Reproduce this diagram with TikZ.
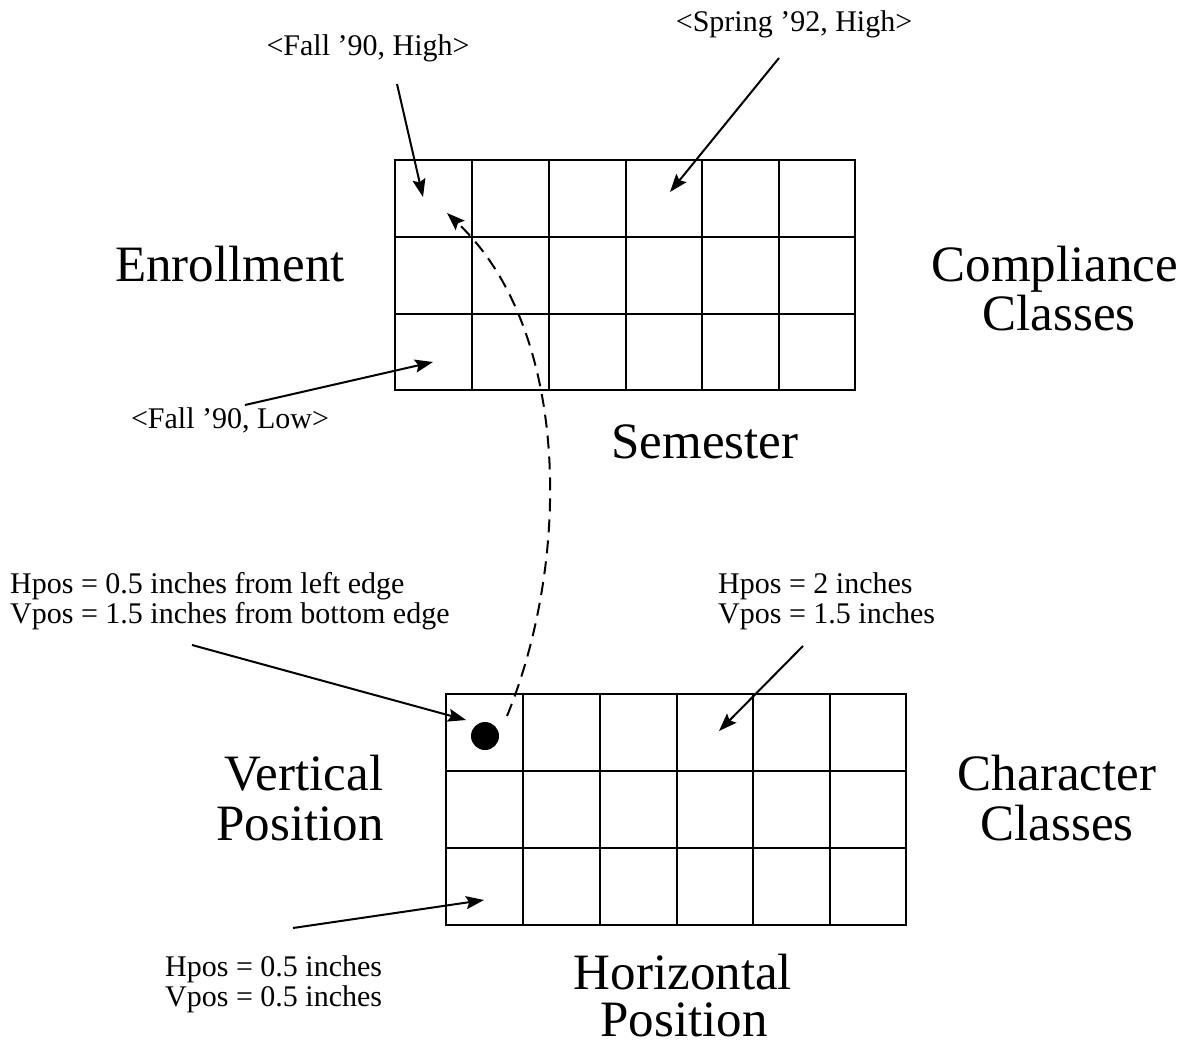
\documentclass[tikz,border=0pt]{standalone}
\usepackage{fontspec}
\setmainfont{Liberation Serif}
\usetikzlibrary{arrows.meta}
\begin{document}
\begin{tikzpicture}[x=1pt,y=-1pt,
  big/.style={font=\fontsize{51}{50}\selectfont,inner sep=0pt,align=center},
  small/.style={font=\fontsize{30}{30}\selectfont,inner sep=0pt},
  gridline/.style={line width=2.4pt},
  ptr/.style={line width=2pt,-{Stealth[length=18pt,width=13pt,inset=3pt]}},
  curve/.style={line width=2pt,dash pattern=on 13pt off 8pt,-{Stealth[length=18pt,width=13pt,inset=3pt]}}]
\useasboundingbox (0,0) rectangle (1193,1046);
% top grid
\draw[gridline] (395,160) rectangle (855,390);
\foreach \x in {472,549,626,702,779} \draw[gridline] (\x,160) -- (\x,390);
\foreach \y in {237,314} \draw[gridline] (395,\y) -- (855,\y);
% bottom grid
\draw[gridline] (446,694) rectangle (906,925);
\foreach \x in {523,600,677,753,830} \draw[gridline] (\x,694) -- (\x,925);
\foreach \y in {771,848} \draw[gridline] (446,\y) -- (906,\y);
% big labels
\node[big,anchor=base] (enr) at (230,281) {Enrollment};
\node[big,anchor=base] (comp) at (1055,281) {Compliance};
\node[big,anchor=base] (compb) at (1059,330) {Classes};
\node[big,anchor=base] (sem) at (705,458) {Semester};
\node[big,anchor=base] (vert) at (304,790) {Vertical};
\node[big,anchor=base] (vertb) at (300,840) {Position};
\node[big,anchor=base] (char) at (1057,790) {Character};
\node[big,anchor=base] (charb) at (1057,840) {Classes};
\node[big,anchor=base] (hor) at (683,989) {Horizontal};
\node[big,anchor=base] (horb) at (684,1036) {Position};
% small labels
\node[small,anchor=base] (fh) at (368,56) {<Fall '90, High>};
\node[small,anchor=base] (sh) at (794,32) {<Spring '92, High>};
\node[small,anchor=base] (fl) at (230,428) {<Fall '90, Low>};
\node[small,anchor=base west,align=left] (p1) at (10,623) {Hpos = 0.5 inches from left edge\\Vpos = 1.5 inches from bottom edge};
\node[small,anchor=base west,align=left] (p2) at (718,623) {Hpos = 2 inches\\Vpos = 1.5 inches};
\node[small,anchor=base west,align=left] (p3) at (165,1006) {Hpos = 0.5 inches\\Vpos = 0.5 inches};
% targets
\coordinate (tfh) at (423,197);
\coordinate (tsh) at (670,192);
\coordinate (tfl) at (433,362);
\coordinate (tp1) at (466,720);
\coordinate (tp2) at (719,731);
\coordinate (tp3) at (484,900);
\coordinate (sfh) at (397,84);
\coordinate (ssh) at (779,58);
\coordinate (sfl) at (245,405);
\coordinate (sp1) at (192,645);
\coordinate (sp2) at (803,646);
\coordinate (sp3) at (293,928);
\draw[ptr] (sfh) -- (tfh);
\draw[ptr] (ssh) -- (tsh);
\draw[ptr] (sfl) -- (tfl);
\draw[ptr] (sp1) -- (tp1);
\draw[ptr] (sp2) -- (tp2);
\draw[ptr] (sp3) -- (tp3);
% dot and dashed curve
\node[circle,fill=black,minimum size=28pt,inner sep=0pt] (dot) at (485,736) {};
\coordinate (cs) at (507,716);
\coordinate (ce) at (447,213);
\draw[curve] (cs) .. controls (571,560) and (571,330) .. (ce);
\end{tikzpicture}
\end{document}
